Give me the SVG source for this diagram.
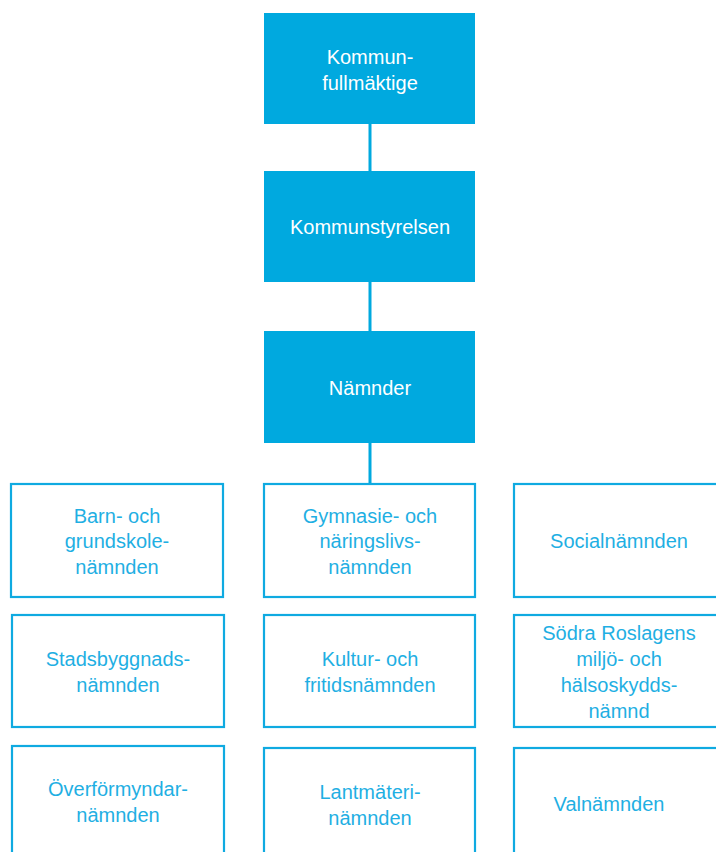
<svg xmlns="http://www.w3.org/2000/svg" width="716" height="852" viewBox="0 0 716 852">
<style>
.top rect{fill:#00A9DF;}
.top text{fill:#ffffff;}
.box rect{fill:#ffffff;stroke:#0FAAE1;stroke-width:2.2;}
.box text{fill:#1FAFE3;}
text{font-family:"Liberation Sans",Arial,sans-serif;font-size:20px;text-anchor:middle;}
.conn line{stroke:#00A9DF;stroke-width:3;}
</style>
<rect width="716" height="852" fill="#ffffff"/>
<g class="conn" id="connectors">
<line x1="370" y1="123" x2="370" y2="172"/>
<line x1="370" y1="281" x2="370" y2="332"/>
<line x1="370" y1="442" x2="370" y2="484"/>
</g>
<g class="top" id="kf"><rect x="264" y="13" width="211" height="111"/><text x="370" y="64">Kommun-</text><text x="370" y="90">fullmäktige</text></g>
<g class="top" id="ks"><rect x="264" y="171" width="211" height="111"/><text x="370" y="234">Kommunstyrelsen</text></g>
<g class="top" id="namnder"><rect x="264" y="331" width="211" height="112"/><text x="370" y="395">Nämnder</text></g>

<g class="box" id="barn"><rect x="11" y="484" width="212" height="113"/><text x="117" y="523">Barn- och</text><text x="117" y="548">grundskole-</text><text x="117" y="574">nämnden</text></g>
<g class="box" id="gymnasie"><rect x="264" y="484" width="211" height="113"/><text x="370" y="523">Gymnasie- och</text><text x="370" y="548">näringslivs-</text><text x="370" y="574">nämnden</text></g>
<g class="box" id="social"><rect x="514" y="484" width="212" height="113"/><text x="619" y="548">Socialnämnden</text></g>

<g class="box" id="stadsbyggnad"><rect x="12" y="615" width="212" height="112"/><text x="118" y="666">Stadsbyggnads-</text><text x="118" y="692">nämnden</text></g>
<g class="box" id="kultur"><rect x="264" y="615" width="211" height="112"/><text x="370" y="666">Kultur- och</text><text x="370" y="692">fritidsnämnden</text></g>
<g class="box" id="sodra"><rect x="514" y="615" width="212" height="112"/><text x="619" y="640">Södra Roslagens</text><text x="619" y="666">miljö- och</text><text x="619" y="692">hälsoskydds-</text><text x="619" y="718">nämnd</text></g>

<g class="box" id="overformyndar"><rect x="12" y="746" width="212" height="120"/><text x="118" y="796">Överförmyndar-</text><text x="118" y="822">nämnden</text></g>
<g class="box" id="lantmateri"><rect x="264" y="748" width="211" height="120"/><text x="370" y="799">Lantmäteri-</text><text x="370" y="825">nämnden</text></g>
<g class="box" id="val"><rect x="514" y="748" width="212" height="120"/><text x="609" y="811">Valnämnden</text></g>
</svg>
